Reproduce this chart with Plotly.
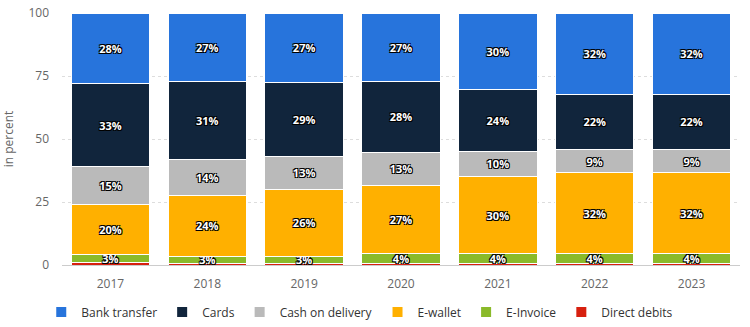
import plotly.graph_objects as go

years = ["2017", "2018", "2019", "2020", "2021", "2022", "2023"]
bank_transfer = [28, 27, 27, 27, 30, 32, 32]
cards = [33, 31, 29, 28, 24, 22, 22]
cash_on_delivery = [15, 14, 13, 13, 10, 9, 9]
e_wallet = [20, 24, 26, 27, 30, 32, 32]
e_invoice = [3, 3, 3, 4, 4, 4, 4]
direct_debits = [1, 0.5, 0.5, 0.5, 0.5, 0.5, 0.5]

series = [
    ("Direct debits", direct_debits, "#d7200f", False),
    ("E-Invoice", e_invoice, "#8aba2a", True),
    ("E-wallet", e_wallet, "#ffb000", True),
    ("Cash on delivery", cash_on_delivery, "#bababa", True),
    ("Cards", cards, "#11253c", True),
    ("Bank transfer", bank_transfer, "#2774dc", True),
]
legend_rank = {"Bank transfer": 1, "Cards": 2, "Cash on delivery": 3,
               "E-wallet": 4, "E-Invoice": 5, "Direct debits": 6}

fig = go.Figure()
for name, vals, color, show_label in series:
    fig.add_trace(go.Bar(
        x=years, y=vals, name=name,
        marker=dict(color=color, line=dict(color="white", width=1)),
        text=[f"{v:g}%" for v in vals] if show_label else None,
        textposition="inside" if show_label else "none",
        insidetextanchor="middle",
        textangle=0,
        constraintext="none",
        textfont=dict(family="Open Sans, Arial, sans-serif", size=11, color="white",
                      weight="bold",
                      shadow="-1px -1px 0 #000, 1px -1px 0 #000, -1px 1px 0 #000, 1px 1px 0 #000"),
        legendrank=legend_rank[name],
        hoverinfo="skip",
    ))

fig.update_layout(
    barmode="stack",
    barnorm="percent",
    bargap=0.19,
    width=750, height=327,
    margin=dict(l=62, r=10, t=13, b=62, autoexpand=False),
    paper_bgcolor="white", plot_bgcolor="white",
    font=dict(family="Open Sans, Arial, sans-serif", size=12, color="#666666"),
    uniformtext=dict(minsize=8, mode="show"),
    showlegend=True,
    legend=dict(orientation="h", xref="container", x=0.055, xanchor="left",
                yref="container", y=0.046, yanchor="middle",
                traceorder="normal",
                font=dict(size=12, color="#333333"),
                itemsizing="constant"),
    xaxis=dict(showline=True, linecolor="#cccccc", linewidth=1, ticks="",
               ticklabelstandoff=8,
               tickfont=dict(size=12, color="#666666"), showgrid=False),
    yaxis=dict(range=[0, 100], tickvals=[0, 25, 50, 75, 100], showgrid=True,
               gridcolor="#dddddd", griddash="dot", zeroline=False,
               ticklabelstandoff=12,
               title=dict(text="in percent", font=dict(size=12, color="#666666"), standoff=14),
               tickfont=dict(size=12, color="#666666")),
)

fig.write_html("out.html")
